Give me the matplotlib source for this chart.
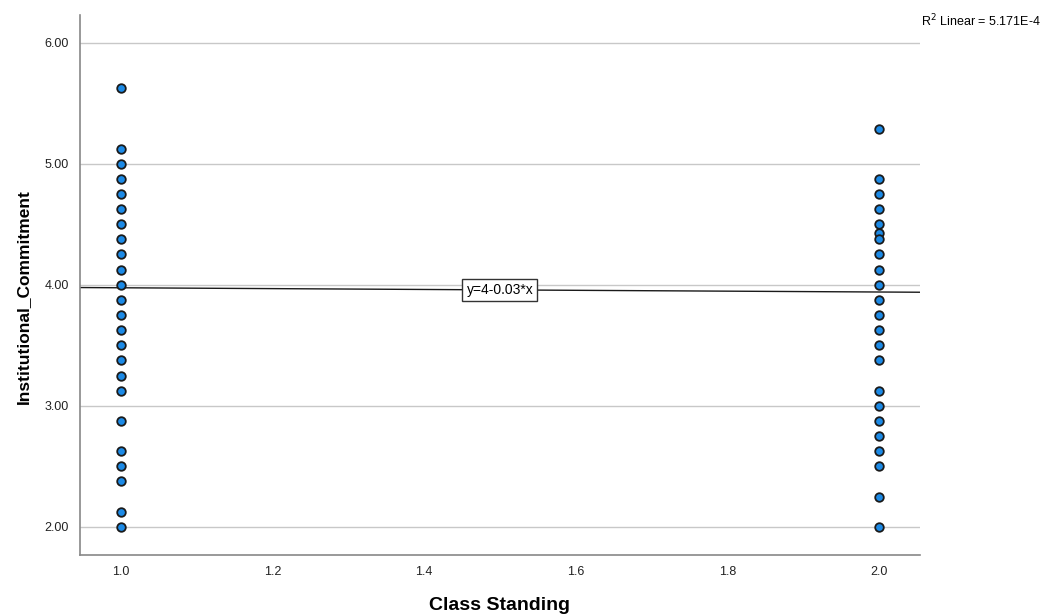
import matplotlib
matplotlib.use("Agg")
from matplotlib import pyplot as plt
import numpy as np

plt.rcParams['font.family'] = ['Liberation Sans', 'DejaVu Sans']

# class standing 1.0
y_first = [5.625, 5.125, 5.0, 4.875, 4.75, 4.625, 4.5, 4.375, 4.25, 4.125, 4.0,
           3.875, 3.75, 3.625, 3.5, 3.375, 3.25, 3.125, 2.875, 2.625, 2.5, 2.375,
           2.125, 2.0]
# class standing 2.0
y_second = [5.29, 4.875, 4.75, 4.625, 4.5, 4.43, 4.38, 4.25, 4.125, 4.0, 3.875,
            3.75, 3.625, 3.5, 3.375, 3.125, 3.0, 2.875, 2.75, 2.625, 2.5, 2.25, 2.0]

fit_intercept = 4.01
fit_slope = -0.035
fit_label = "y=4-0.03*x"
r2_label = r"R$^2$ Linear = 5.171E-4"

fig = plt.figure(figsize=(10.5, 6.15), dpi=100)
ax = fig.add_axes([0.076, 0.098, 0.8, 0.878])

xlim = (0.946, 2.054)
ax.set_xlim(*xlim)
ax.set_ylim(1.77, 6.23)

# gridlines
ax.set_yticks(np.arange(2, 6.01, 1))
ax.yaxis.grid(True, color="#c8c8c8", lw=1.0)
ax.set_axisbelow(True)

ax.scatter([1.0] * len(y_first), y_first, s=38, c="#1c8ae6", edgecolors="#1a1a1a",
           linewidths=1.3, zorder=3)
ax.scatter([2.0] * len(y_second), y_second, s=38, c="#1c8ae6", edgecolors="#1a1a1a",
           linewidths=1.3, zorder=3)

# fit line
xs = np.array(xlim)
ax.plot(xs, fit_intercept + fit_slope * xs, color="#1a1a1a", lw=1.0, zorder=2)
ax.text(1.5, fit_intercept + fit_slope * 1.5, fit_label, ha="center", va="center",
        fontsize=10, zorder=4,
        bbox=dict(boxstyle="square,pad=0.3", fc="white", ec="#333333", lw=1.0))

ax.set_xticks(np.arange(1.0, 2.01, 0.2))
ax.set_xticklabels(["%.1f" % v for v in np.arange(1.0, 2.01, 0.2)])
ax.set_yticklabels(["%.2f" % v for v in np.arange(2, 6.01, 1)])
ax.tick_params(length=0, labelsize=9, colors="#222222", pad=8)

for s in ["top", "right"]:
    ax.spines[s].set_visible(False)
for s in ["left", "bottom"]:
    ax.spines[s].set_color("#888888")
    ax.spines[s].set_linewidth(1.2)

ax.set_xlabel("Class Standing", fontsize=14, fontweight="bold", labelpad=14)
ax.set_ylabel("Institutional_Commitment", fontsize=12.5, fontweight="bold")
ax.yaxis.set_label_coords(-0.058, 0.478)

fig.text(0.877, 0.966, r2_label, fontsize=9, ha="left", va="center")

fig.savefig("out.png", dpi=100)
